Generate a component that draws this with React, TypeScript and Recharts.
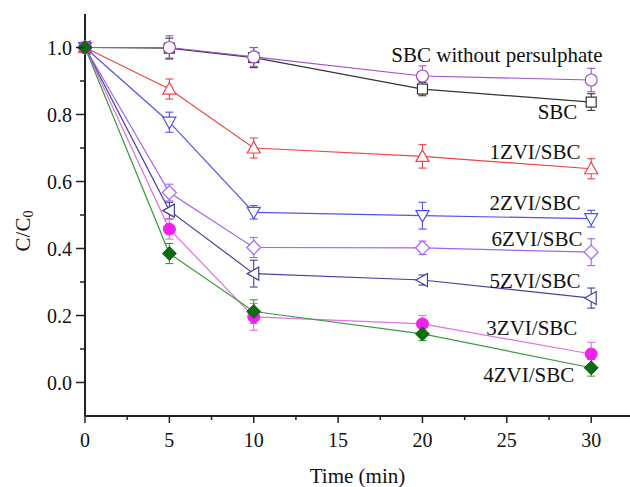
import React from 'react'
import { LineChart, Line, XAxis, YAxis, ErrorBar, ReferenceDot } from 'recharts'

// sampling times (min)
const times = [0, 5, 10, 20, 30]

// C/C0 per material, with error (±)
const sbcNoPs = [1.0, 1.0, 0.972, 0.915, 0.903]
const sbcNoPsErr = [0, 0.035, 0.028, 0.03, 0.035]
const sbc = [1.0, 0.998, 0.97, 0.876, 0.837]
const sbcErr = [0, 0.03, 0.03, 0.02, 0.025]
const zvi1 = [1.0, 0.876, 0.7, 0.675, 0.638]
const zvi1Err = [0, 0.03, 0.03, 0.035, 0.03]
const zvi2 = [1.0, 0.777, 0.508, 0.498, 0.489]
const zvi2Err = [0, 0.03, 0.02, 0.04, 0.025]
const zvi6 = [1.0, 0.567, 0.403, 0.402, 0.389]
const zvi6Err = [0, 0.025, 0.03, 0.02, 0.04]
const zvi5 = [1.0, 0.513, 0.325, 0.306, 0.252]
const zvi5Err = [0, 0.025, 0.04, 0.015, 0.03]
const zvi3 = [1.0, 0.458, 0.196, 0.175, 0.085]
const zvi3Err = [0, 0.03, 0.04, 0.025, 0.035]
const zvi4 = [1.0, 0.385, 0.212, 0.145, 0.044]
const zvi4Err = [0, 0.03, 0.035, 0.02, 0.025]

const xTicks = [0, 2.5, 5, 7.5, 10, 12.5, 15, 17.5, 20, 22.5, 25, 27.5, 30]
const yTicks = [0, 0.1, 0.2, 0.3, 0.4, 0.5, 0.6, 0.7, 0.8, 0.9, 1.0]

// in-plot series labels (data coords, text is right-aligned at x)
const noteText = ['SBC without persulphate', 'SBC', '1ZVI/SBC', '2ZVI/SBC', '6ZVI/SBC', '5ZVI/SBC', '3ZVI/SBC', '4ZVI/SBC']
const noteX = [30.67, 29.18, 29.36, 29.36, 29.48, 29.36, 29.18, 29.0]
const noteY = [0.98, 0.81, 0.689, 0.537, 0.43, 0.305, 0.163, 0.023]

const rows = times.map((t, i) => ({
  t,
  sbcNoPs: sbcNoPs[i], sbcNoPsErr: sbcNoPsErr[i],
  sbc: sbc[i], sbcErr: sbcErr[i],
  zvi1: zvi1[i], zvi1Err: zvi1Err[i],
  zvi2: zvi2[i], zvi2Err: zvi2Err[i],
  zvi6: zvi6[i], zvi6Err: zvi6Err[i],
  zvi5: zvi5[i], zvi5Err: zvi5Err[i],
  zvi3: zvi3[i], zvi3Err: zvi3Err[i],
  zvi4: zvi4[i], zvi4Err: zvi4Err[i],
}))

const series = [
  { key: 'sbc', color: '#333333', marker: 'square' },
  { key: 'sbcNoPs', color: '#a150c8', marker: 'circle' },
  { key: 'zvi1', color: '#ee4444', marker: 'triUp' },
  { key: 'zvi2', color: '#5252ea', marker: 'triDown' },
  { key: 'zvi6', color: '#a264ee', marker: 'diamond' },
  { key: 'zvi5', color: '#42429e', marker: 'triLeft' },
  { key: 'zvi3', color: '#ee22ee', lineColor: '#e070e0', marker: 'dot' },
  { key: 'zvi4', color: '#0d6b12', lineColor: '#3a9a3a', marker: 'fdiamond' },
]

const FONT = '"Liberation Serif", "Times New Roman", serif'
const textStyle = { fontFamily: FONT }

function Marker({ cx, cy, shape, color }: any) {
  if (cx == null || cy == null) return null
  const s = 6.5
  const open = { fill: '#fff', stroke: color, strokeWidth: 1.2 }
  switch (shape) {
    case 'square':
      return <rect x={cx - 5} y={cy - 5} width={10} height={10} {...open} />
    case 'circle':
      return <circle cx={cx} cy={cy} r={6} {...open} />
    case 'triUp':
      return <polygon points={`${cx},${cy - s} ${cx - s},${cy + 5} ${cx + s},${cy + 5}`} {...open} />
    case 'triDown':
      return <polygon points={`${cx - s},${cy - 5} ${cx + s},${cy - 5} ${cx},${cy + s}`} {...open} />
    case 'triLeft':
      return <polygon points={`${cx - s},${cy} ${cx + 5},${cy - s} ${cx + 5},${cy + s}`} {...open} />
    case 'diamond':
      return <polygon points={`${cx},${cy - 7} ${cx + 7},${cy} ${cx},${cy + 7} ${cx - 7},${cy}`} {...open} />
    case 'dot':
      return <circle cx={cx} cy={cy} r={6} fill={color} stroke={color} />
    case 'fdiamond':
      return <polygon points={`${cx},${cy - 7} ${cx + 7},${cy} ${cx},${cy + 7} ${cx - 7},${cy}`} fill={color} stroke={color} />
  }
  return null
}

function XTick({ x, y, payload }: any) {
  const major = payload.value % 5 === 0
  return (
    <g>
      <line x1={x} x2={x} y1={y} y2={y + (major ? 7 : 4)} stroke="#222" strokeWidth={1.5} />
      {major && (
        <text x={x} y={y + 31} textAnchor="middle" fontSize={20} style={textStyle} fill="#111">
          {payload.value}
        </text>
      )}
    </g>
  )
}

function YTick({ x, y, payload }: any) {
  const v = Math.round(payload.value * 10)
  const major = v % 2 === 0
  return (
    <g>
      <line x1={x} x2={x - (major ? 9 : 5)} y1={y} y2={y} stroke="#222" strokeWidth={1.5} />
      {major && (
        <text x={x - 13} y={y + 7} textAnchor="end" fontSize={20} style={textStyle} fill="#111">
          {payload.value.toFixed(1)}
        </text>
      )}
    </g>
  )
}

function YLabel({ viewBox }: any) {
  const cx = viewBox.x + 23
  const cy = viewBox.y + viewBox.height / 2 + 16
  return (
    <text transform={`translate(${cx},${cy}) rotate(-90)`} textAnchor="middle" dominantBaseline="central"
      fontSize={21} style={textStyle} fill="#111">
      C/C<tspan fontSize={14} dy={5}>0</tspan>
    </text>
  )
}

function XLabel({ viewBox }: any) {
  return (
    <text x={viewBox.x + viewBox.width / 2} y={viewBox.y + 67} textAnchor="middle"
      fontSize={21} style={textStyle} fill="#111">
      Time (min)
    </text>
  )
}

export default function App() {
  return (
    <div style={{ position: 'absolute', left: 0, top: 0, width: 630, height: 487, overflow: 'hidden', background: '#fff', fontFamily: FONT }}>
      <LineChart width={630} height={487} data={rows} margin={{ top: 14, right: 0, bottom: 0, left: 0 }}>
        <XAxis
          dataKey="t"
          type="number"
          domain={[0, 32.3]}
          ticks={xTicks}
          interval={0}
          tickSize={0}
          tickMargin={0}
          tickLine={false}
          tick={<XTick />}
          height={71}
          axisLine={{ stroke: '#222', strokeWidth: 2 }}
          label={<XLabel />}
        />
        <XAxis
          xAxisId="top"
          orientation="top"
          dataKey="t"
          type="number"
          domain={[0, 32.3]}
          tick={false}
          tickLine={false}
          height={0}
          axisLine={{ stroke: '#222', strokeWidth: 2 }}
        />
        <YAxis
          type="number"
          domain={[-0.1, 1.1]}
          ticks={yTicks}
          interval={0}
          tickSize={0}
          tickMargin={0}
          tickLine={false}
          tick={<YTick />}
          width={85}
          axisLine={{ stroke: '#222', strokeWidth: 2 }}
          label={<YLabel />}
        />
        {series.map((s) => (
          <Line
            key={s.key}
            dataKey={s.key}
            stroke={s.lineColor || s.color}
            strokeWidth={1.2}
            isAnimationActive={false}
            dot={(p: any) => <Marker key={`${s.key}-${p.index}`} cx={p.cx} cy={p.cy} shape={s.marker} color={s.color} />}
            activeDot={false}
          >
            <ErrorBar dataKey={`${s.key}Err`} width={4} strokeWidth={1.1} stroke={s.lineColor || s.color} direction="y" />
          </Line>
        ))}
        {noteText.map((txt, i) => (
          <ReferenceDot
            key={txt}
            x={noteX[i]}
            y={noteY[i]}
            r={0}
            fill="none"
            stroke="none"
            label={{ value: txt, position: 'left', offset: 0, fontSize: 21, fontFamily: FONT, fill: '#111' }}
          />
        ))}
      </LineChart>
    </div>
  )
}
